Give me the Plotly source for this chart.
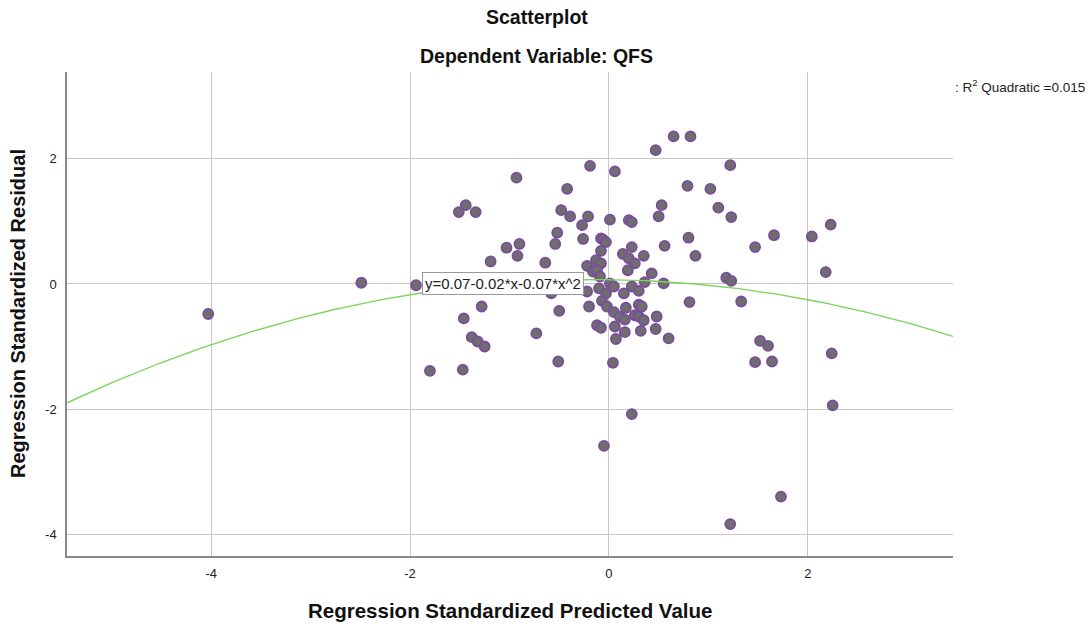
import numpy as np
import plotly.graph_objects as go

# Regression standardized predicted values (x) and standardized residuals (y)
pred = [
    -4.03, -2.49, -1.94, -1.80, -1.47, -0.19, 0.06, -0.93, -0.42, -1.44,
    -1.51, -1.34, -0.48, -0.39, -0.21, 0.01, -0.27, -0.52, -0.26, -0.08,
    -0.06, -0.03, -0.54, -1.03, -0.90, -0.92, -0.08, -1.19, -0.64, -0.13,
    -0.08, -0.22, -0.16, -0.12, 0.65, 0.82, 0.47, 1.22, 0.79, 1.02,
    0.53, 0.50, 1.10, 1.23, 0.20, 0.23, 2.23, 2.04, 1.66, 0.80,
    1.47, 0.56, 0.23, 0.87, 0.35, 0.14, 0.20, 0.26, 0.19, 0.43,
    2.18, 0.36, 0.55, 1.18, 1.23, 0.01, 0.05, 0.23, 0.30, 0.15,
    -0.10, -0.03, -0.22, -0.58, -0.07, 0.81, 1.33, 0.17, 0.30, 0.33,
    -0.02, -0.20, -1.28, -0.50, 0.05, 0.11, 0.16, 0.26, 0.30, 0.35,
    0.48, -1.46, -0.12, -0.08, 0.06, 0.47, 0.32, 0.16, -0.73, 0.60,
    0.07, -1.38, -1.32, -1.25, 1.52, 1.60, 2.24, 0.04, -0.51, 1.47,
    1.64, 2.25, 0.23, -0.05, 1.22, 1.73, -0.09,
]
resid = [
    -0.48, 0.02, -0.02, -1.39, -1.37, 1.89, 1.80, 1.70, 1.52, 1.26,
    1.15, 1.15, 1.18, 1.08, 1.08, 1.03, 0.94, 0.82, 0.72, 0.73,
    0.71, 0.67, 0.64, 0.58, 0.64, 0.45, 0.53, 0.36, 0.34, 0.38,
    0.33, 0.29, 0.20, 0.22, 2.36, 2.36, 2.14, 1.90, 1.57, 1.52,
    1.26, 1.08, 1.22, 1.07, 1.02, 0.99, 0.95, 0.76, 0.78, 0.74,
    0.59, 0.61, 0.59, 0.45, 0.45, 0.48, 0.41, 0.33, 0.22, 0.17,
    0.19, 0.03, 0.01, 0.10, 0.05, 0.01, -0.04, -0.04, -0.11, -0.15,
    -0.07, -0.15, -0.12, -0.15, -0.27, -0.29, -0.28, -0.38, -0.33, -0.36,
    -0.36, -0.36, -0.36, -0.43, -0.45, -0.52, -0.57, -0.50, -0.52, -0.58,
    -0.52, -0.55, -0.66, -0.70, -0.68, -0.72, -0.75, -0.77, -0.79, -0.87,
    -0.88, -0.85, -0.92, -1.00, -0.91, -0.99, -1.11, -1.26, -1.24, -1.25,
    -1.24, -1.94, -2.08, -2.59, -3.84, -3.40, 0.12,
]

# Quadratic fit coefficients: y = b0 + b1*x + b2*x^2
b0, b1, b2 = 0.07, -0.02, -0.07
r2_quadratic = 0.015

x_range = [-5.45, 3.46]
y_range = [-4.35, 3.39]
tick_vals = [-4, -2, 0, 2]
tick_text = ["-4", "-2", "0", "2"]

xs = np.linspace(x_range[0], x_range[1], 300)
ys = b0 + b1 * xs + b2 * xs ** 2

font_family = "Liberation Sans, Arial, sans-serif"

fig = go.Figure()
fig.add_trace(go.Scatter(
    x=pred, y=resid, mode="markers",
    marker=dict(size=10, color="#6e6e6e",
                line=dict(color="#7b4c9e", width=1.8)),
    showlegend=False, hoverinfo="x+y",
))
fig.add_trace(go.Scatter(
    x=xs, y=ys, mode="lines",
    line=dict(color="#7ad35a", width=1.3),
    showlegend=False, hoverinfo="skip",
))

axis_common = dict(
    tickvals=tick_vals, ticktext=tick_text, ticks="",
    showgrid=True, gridcolor="#c8c8c8", gridwidth=1,
    zeroline=False, showline=True, linecolor="#8a8a8a", linewidth=1.5,
    tickfont=dict(size=13, color="#222222"),
)

fig.update_layout(
    width=1092, height=627,
    margin=dict(l=67, r=139, t=72, b=71),
    paper_bgcolor="white", plot_bgcolor="white",
    font=dict(family=font_family, color="#222222"),
    xaxis=dict(range=x_range, ticklabelstandoff=5, **axis_common),
    yaxis=dict(range=y_range, ticklabelstandoff=6, **axis_common),
    annotations=[
        dict(text="<b>Scatterplot</b>", xref="paper", yref="paper",
             x=0.530, y=1.1136, xanchor="center", yanchor="middle",
             showarrow=False, font=dict(size=19.5, color="#111111")),
        dict(text="<b>Dependent Variable: QFS</b>", xref="paper", yref="paper",
             x=0.530, y=1.033, xanchor="center", yanchor="middle",
             showarrow=False, font=dict(size=19.5, color="#111111")),
        dict(text="<b>Regression Standardized Predicted Value</b>",
             xref="paper", yref="paper", x=0.5, y=0, yshift=-54,
             xanchor="center", yanchor="middle", showarrow=False,
             font=dict(size=20.5, color="#111111")),
        dict(text="<b>Regression Standardized Residual</b>",
             xref="paper", yref="paper", x=0, y=0.5, xshift=-49,
             xanchor="center", yanchor="middle", textangle=-90,
             showarrow=False, font=dict(size=20, color="#111111")),
        dict(text=f": R<sup>2</sup> Quadratic ={r2_quadratic}",
             xref="paper", yref="paper", x=1, xshift=0, y=1, yshift=-14,
             xanchor="left", yanchor="middle", showarrow=False,
             font=dict(size=13.5, color="#222222")),
        dict(text=f"y={b0}{b1:+}*x{b2:+}*x^2",
             xref="x", yref="y", x=-1.88, y=0.0,
             xanchor="left", yanchor="middle", showarrow=False,
             bgcolor="white", bordercolor="#9a9a9a", borderwidth=1,
             borderpad=2, font=dict(size=15, color="#222222")),
    ],
)

fig.write_html("out.html")
